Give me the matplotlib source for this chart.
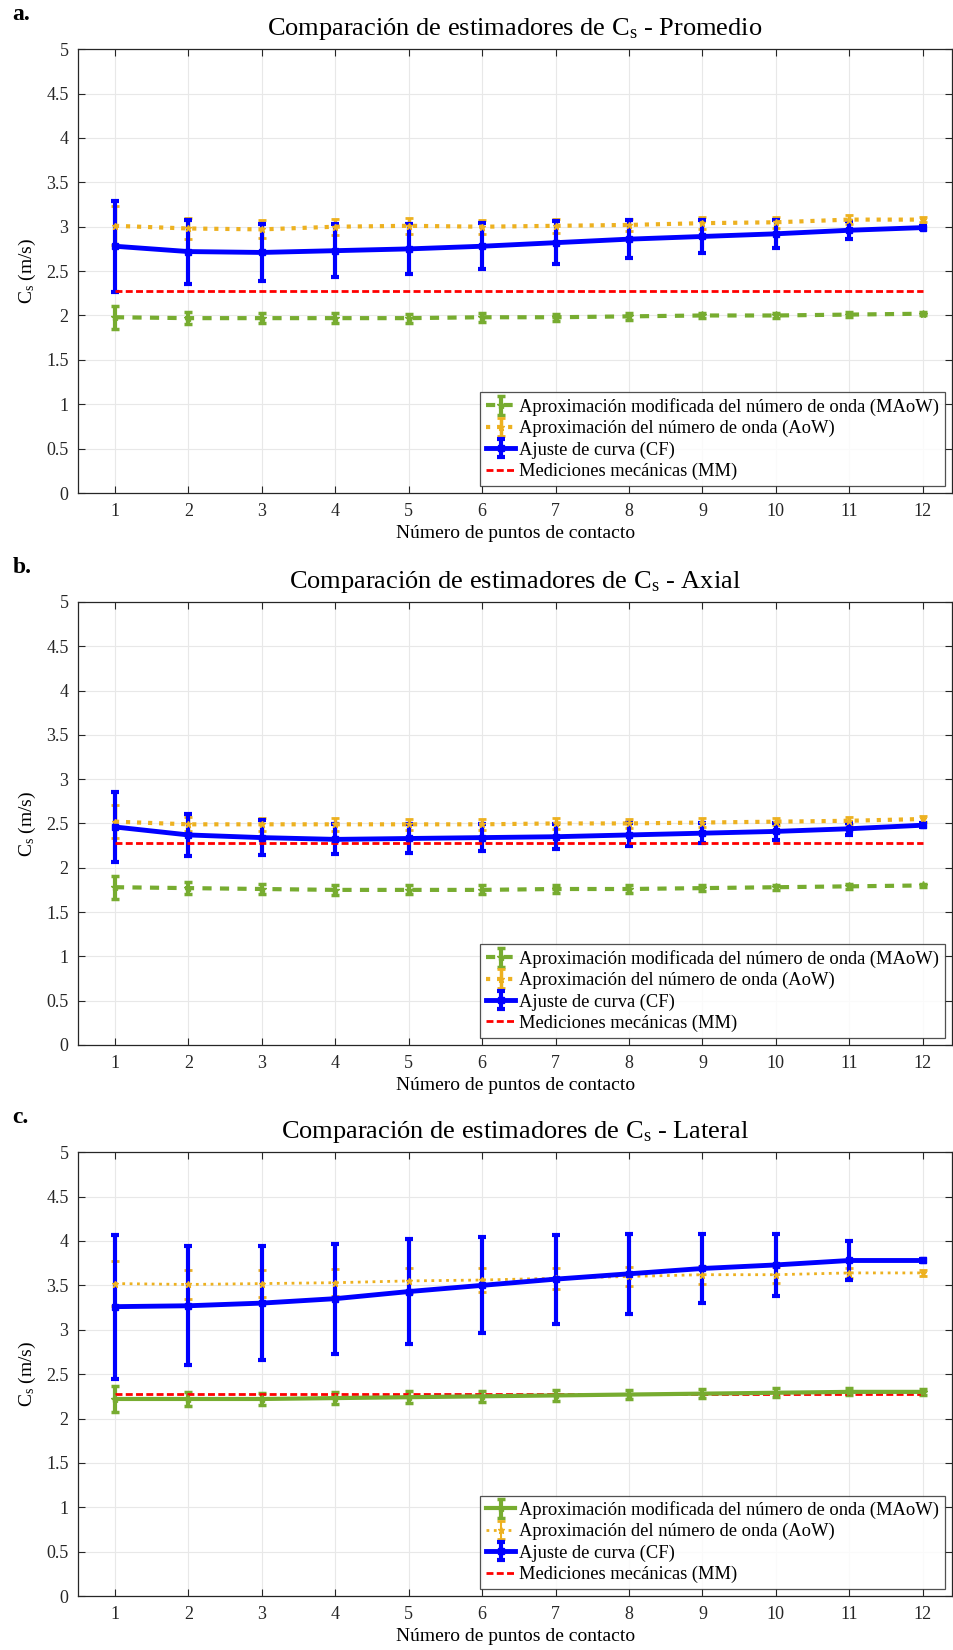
import numpy as np
import matplotlib.pyplot as plt
from matplotlib.ticker import MultipleLocator, FuncFormatter

# Estimadores de Cs en funcion del numero de puntos de contacto
puntos = [1, 2, 3, 4, 5, 6, 7, 8, 9, 10, 11, 12]
cs_mm = 2.28

# a. Promedio
prom_cf = [2.78, 2.72, 2.71, 2.73, 2.75, 2.78, 2.82, 2.86, 2.89, 2.92, 2.96, 2.99]
prom_cf_err = [0.51, 0.36, 0.32, 0.30, 0.28, 0.26, 0.24, 0.21, 0.19, 0.16, 0.10, 0.02]
prom_aow = [3.01, 2.98, 2.97, 3.00, 3.01, 3.00, 3.01, 3.02, 3.04, 3.05, 3.08, 3.08]
prom_aow_err = [0.22, 0.12, 0.10, 0.09, 0.09, 0.08, 0.08, 0.07, 0.07, 0.06, 0.05, 0.03]
prom_maow = [1.98, 1.97, 1.97, 1.97, 1.97, 1.98, 1.98, 1.99, 2.00, 2.00, 2.01, 2.02]
prom_maow_err = [0.13, 0.07, 0.06, 0.06, 0.05, 0.05, 0.04, 0.04, 0.03, 0.03, 0.03, 0.02]

# b. Axial
axial_cf = [2.46, 2.37, 2.34, 2.32, 2.33, 2.34, 2.35, 2.37, 2.39, 2.41, 2.44, 2.48]
axial_cf_err = [0.40, 0.24, 0.20, 0.17, 0.16, 0.15, 0.14, 0.13, 0.11, 0.10, 0.07, 0.02]
axial_aow = [2.52, 2.49, 2.49, 2.49, 2.49, 2.49, 2.50, 2.50, 2.51, 2.52, 2.53, 2.55]
axial_aow_err = [0.19, 0.08, 0.07, 0.07, 0.06, 0.06, 0.06, 0.05, 0.05, 0.04, 0.04, 0.03]
axial_maow = [1.78, 1.77, 1.76, 1.75, 1.75, 1.75, 1.76, 1.76, 1.77, 1.78, 1.79, 1.80]
axial_maow_err = [0.13, 0.07, 0.06, 0.06, 0.05, 0.05, 0.04, 0.04, 0.03, 0.03, 0.03, 0.02]

# c. Lateral
lat_cf = [3.26, 3.27, 3.30, 3.35, 3.43, 3.50, 3.57, 3.63, 3.69, 3.73, 3.78, 3.78]
lat_cf_err = [0.81, 0.67, 0.64, 0.62, 0.59, 0.54, 0.50, 0.45, 0.39, 0.35, 0.22, 0.02]
lat_aow = [3.52, 3.51, 3.52, 3.53, 3.55, 3.56, 3.58, 3.60, 3.62, 3.62, 3.64, 3.64]
lat_aow_err = [0.25, 0.16, 0.15, 0.15, 0.14, 0.13, 0.12, 0.11, 0.10, 0.09, 0.06, 0.03]
lat_maow = [2.22, 2.22, 2.22, 2.23, 2.24, 2.25, 2.26, 2.27, 2.28, 2.29, 2.30, 2.30]
lat_maow_err = [0.15, 0.08, 0.07, 0.07, 0.07, 0.06, 0.06, 0.05, 0.05, 0.05, 0.04, 0.03]

etiquetas = ["Aproximación modificada del número de onda (MAoW)",
             "Aproximación del número de onda (AoW)",
             "Ajuste de curva (CF)",
             "Mediciones mecánicas (MM)"]

AZUL = (0, 0, 1)
NARANJA = '#EDB120'
VERDE = '#77AC30'
ROJO = (1, 0, 0)

plt.rcParams['font.family'] = ['Liberation Serif', 'DejaVu Serif']
plt.rcParams['mathtext.fontset'] = 'custom'
plt.rcParams['mathtext.rm'] = 'Liberation Serif'
plt.rcParams['mathtext.it'] = 'Liberation Serif'

fig = plt.figure(figsize=(9.54, 16.5), dpi=100)

def panel(pos, letra, nombre, cf, cf_err, aow, aow_err, maow, maow_err, lateral=False):
    ax = fig.add_axes(pos)
    x = np.array(puntos)
    # MAoW
    estilo_v = '-' if lateral else '--'
    h1 = ax.errorbar(x, maow, yerr=maow_err, color=VERDE, ls=estilo_v, lw=3,
                     marker='*', ms=6, elinewidth=3, capsize=3, capthick=2.5,
                     dashes=(None if lateral else (2.2, 2.0)))
    # AoW
    lw_a = 2 if lateral else 3
    h2 = ax.errorbar(x, aow, yerr=aow_err, color=NARANJA, ls=':', lw=lw_a,
                     marker='*', ms=5, elinewidth=lw_a - 0.5, capsize=3, capthick=2)
    # CF
    h3 = ax.errorbar(x, cf, yerr=cf_err, color=AZUL, ls='-', lw=3.5,
                     marker='s', ms=5, elinewidth=3, capsize=3, capthick=3)
    # MM
    h4, = ax.plot([x[0], x[-1]], [cs_mm, cs_mm], color=ROJO, ls='--', lw=2,
                  dashes=(2.5, 1.2))

    ax.set_xlim(0.5, 12.4)
    ax.set_ylim(0, 5)
    ax.xaxis.set_major_locator(MultipleLocator(1))
    ax.yaxis.set_major_locator(MultipleLocator(0.5))
    ax.yaxis.set_major_formatter(FuncFormatter(lambda v, p: '%g' % v))
    ax.tick_params(direction='in', top=True, right=True, labelsize=13,
                   length=5, width=0.8, colors='#262626', pad=7)
    ax.grid(True, color='#e8e8e8', lw=0.8)
    ax.set_axisbelow(True)
    for s in ax.spines.values():
        s.set_color('#262626')
        s.set_linewidth(0.9)

    ax.set_title(r"Comparación de estimadores de C$_\mathregular{s}$ - " + nombre,
                 fontsize=19, pad=10)
    ax.set_xlabel("Número de puntos de contacto", fontsize=14, labelpad=4)
    ax.set_ylabel(r"C$_\mathregular{s}$ (m/s)", fontsize=14, labelpad=6)
    ax.text(-0.075, 1.055, letra, transform=ax.transAxes, fontsize=17,
            fontweight='bold', ha='left', va='bottom')

    leg = ax.legend([h1, h2, h3, h4], etiquetas, loc='lower right', fontsize=13.3,
                    frameon=True, fancybox=False, edgecolor='#262626',
                    handlelength=1.6, handletextpad=0.2, borderpad=0.3,
                    labelspacing=0.22, borderaxespad=0.4)
    leg.get_frame().set_linewidth(0.9)
    return ax

panel([0.082, 0.7012, 0.916, 0.269], "a.", "Promedio",
      prom_cf, prom_cf_err, prom_aow, prom_aow_err, prom_maow, prom_maow_err)
panel([0.082, 0.3667, 0.916, 0.2685], "b.", "Axial",
      axial_cf, axial_cf_err, axial_aow, axial_aow_err, axial_maow, axial_maow_err)
panel([0.082, 0.0327, 0.916, 0.269], "c.", "Lateral",
      lat_cf, lat_cf_err, lat_aow, lat_aow_err, lat_maow, lat_maow_err, lateral=True)

fig.savefig("out.png", dpi=100)
